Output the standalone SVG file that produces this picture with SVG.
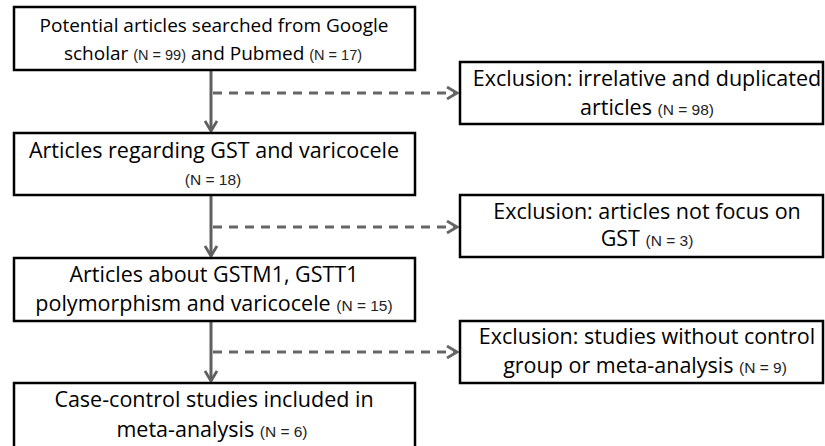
<svg xmlns="http://www.w3.org/2000/svg" width="825" height="446" viewBox="0 0 825 446">
<style>
.box{fill:#fff;stroke:#000;stroke-width:2.5}
.t{font-family:"Open Sans","Liberation Sans",sans-serif;font-size:21.5px;fill:#000;text-anchor:middle}
.t1{font-size:19px}
.n{font-family:"Liberation Sans",Arial,sans-serif;font-size:15.5px;fill:#222}
.n1{font-size:14.5px}
.solid{stroke:#5f5f5f;stroke-width:3;fill:none}
.dash{stroke:#666;stroke-width:3;fill:none;stroke-dasharray:9 7}
</style>
<defs>
<marker id="chev" viewBox="0 0 14 14" refX="12" refY="7" markerWidth="14" markerHeight="14" markerUnits="userSpaceOnUse" orient="auto">
<path d="M2,1 L12,7 L2,13" fill="none" stroke="#5f5f5f" stroke-width="2.8"/>
</marker>
<marker id="chevd" viewBox="0 0 14 14" refX="12" refY="7" markerWidth="14" markerHeight="14" markerUnits="userSpaceOnUse" orient="auto">
<path d="M2,1 L12,7 L2,13" fill="none" stroke="#666" stroke-width="2.8"/>
</marker>
</defs>
<g id="connectors">
<line class="solid" x1="211" y1="71" x2="211" y2="131" marker-end="url(#chev)"/>
<line class="solid" x1="211" y1="195" x2="211" y2="256" marker-end="url(#chev)"/>
<line class="solid" x1="211" y1="321" x2="211" y2="381" marker-end="url(#chev)"/>
<line class="dash" x1="213" y1="93" x2="457" y2="93" marker-end="url(#chevd)"/>
<line class="dash" x1="213" y1="227" x2="457" y2="227" marker-end="url(#chevd)"/>
<line class="dash" x1="213" y1="352" x2="457" y2="352" marker-end="url(#chevd)"/>
</g>
<g id="n1">
<rect class="box" x="14" y="7" width="401" height="63"/>
<text class="t t1" x="214" y="32">Potential articles searched from Google</text>
<text class="t t1" x="213" y="60">scholar <tspan class="n n1">(N = 99)</tspan> and Pubmed <tspan class="n n1">(N = 17)</tspan></text>
</g>
<g id="n2">
<rect class="box" x="14" y="133" width="401" height="62"/>
<text class="t" x="214" y="158">Articles regarding GST and varicocele</text>
<text class="n" x="213" y="185" text-anchor="middle">(N = 18)</text>
</g>
<g id="n3">
<rect class="box" x="14" y="258" width="401" height="63"/>
<text class="t" x="214" y="282">Articles about GSTM1, GSTT1</text>
<text class="t" x="214" y="311">polymorphism and varicocele <tspan class="n">(N = 15)</tspan></text>
</g>
<g id="n4">
<rect class="box" x="14" y="383" width="401" height="66"/>
<text class="t" x="214" y="407">Case-control studies included in</text>
<text class="t" x="212" y="437">meta-analysis <tspan class="n">(N = 6)</tspan></text>
</g>
<g id="e1">
<rect class="box" x="460" y="62" width="363" height="62"/>
<text class="t" x="647" y="86">Exclusion: irrelative and duplicated</text>
<text class="t" x="647" y="115">articles <tspan class="n">(N = 98)</tspan></text>
</g>
<g id="e2">
<rect class="box" x="460" y="195" width="363" height="62"/>
<text class="t" x="647" y="219">Exclusion: articles not focus on</text>
<text class="t" x="647" y="246">GST <tspan class="n">(N = 3)</tspan></text>
</g>
<g id="e3">
<rect class="box" x="460" y="321" width="363" height="62"/>
<text class="t" x="647" y="344">Exclusion: studies without control</text>
<text class="t" x="645" y="373">group or meta-analysis <tspan class="n">(N = 9)</tspan></text>
</g>
</svg>
